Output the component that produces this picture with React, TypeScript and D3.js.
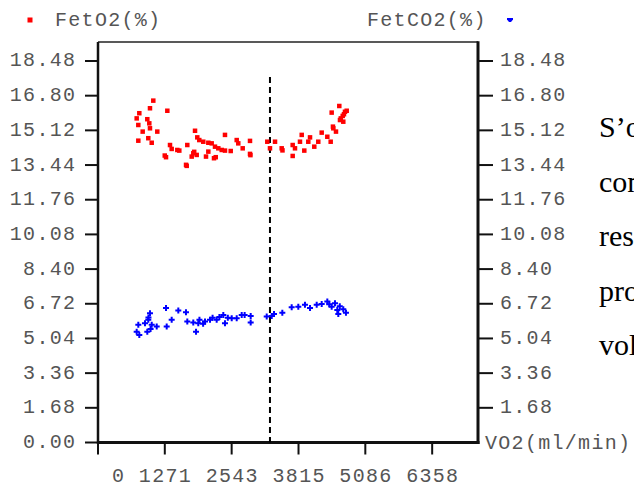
import * as d3 from 'd3';

// FetO2 (%) vs VO2 (ml/min), red squares
const vo2O2 = [
  1052, 989, 1319, 786, 736, 938, 767, 976, 989, 850, 1128, 957, 767, 1022, 1370, 1294,
  1402, 1509, 1547, 1688, 1699, 1846, 1889, 1927, 2003, 2099, 1813, 1783, 1878, 2055,
  2099, 2207, 2163, 2226, 2289, 2354, 2416, 2416, 2525, 2639, 2669, 2753, 2892, 2892,
  3221, 3272, 3368, 3495, 3704, 3704, 3748, 3843, 3876, 3925, 4001, 4034, 4115, 4191,
  4256, 4363, 4427, 4446, 4477, 4528, 4591, 4604, 4656, 4699, 4732, 4667,
  1270, 1675, 1830, 2240, 2900, 3510, 4470, 4620, 4680,
];
const fetO2 = [
  16.56, 16.19, 16.07, 15.95, 15.70, 15.66, 15.38, 15.46, 15.22, 15.06, 15.06, 14.74, 14.62, 14.52, 14.41, 13.82,
  14.22, 14.17, 14.14, 13.40, 14.41, 15.10, 14.78, 14.65, 14.57, 14.52, 14.01, 13.85, 13.93, 13.85,
  14.09, 13.77, 14.49, 14.33, 14.25, 14.17, 14.90, 14.14, 14.12, 14.65, 14.49, 14.25, 14.61, 13.98,
  14.57, 14.25, 14.57, 14.25, 14.41, 13.88, 14.25, 14.57, 14.90, 14.14, 14.57, 14.78, 14.33, 14.57,
  15.01, 14.81, 14.57, 15.98, 15.22, 15.06, 16.30, 15.62, 15.82, 16.02, 16.07, 15.54,
  13.90, 13.45, 14.08, 13.82, 13.92, 14.15, 15.30, 15.70, 15.90,
];

// FetCO2 (%) vs VO2 (ml/min), blue crosses
const vo2CO2 = [
  989, 957, 894, 1022, 767, 736, 786, 938, 1117, 1294, 1402, 1307, 1528, 1674, 1699,
  1813, 1865, 1908, 2036, 2131, 2258, 2384, 2416, 2544, 2639, 2734, 2905, 2905, 3210,
  3305, 3349, 3507, 3685, 3811, 3938, 4034, 4161, 4256, 4363, 4446, 4509, 4553, 4667,
  4718, 4572, 1930, 2180, 2310, 2470, 2790, 960, 1000, 2000, 4400, 4600,
];
const fetCO2 = [
  6.26, 5.94, 5.78, 5.70, 5.70, 5.37, 5.21, 5.37, 5.62, 6.51, 5.94, 5.62, 6.39, 6.31, 5.86,
  5.81, 5.37, 5.78, 5.86, 5.94, 5.94, 6.18, 5.78, 6.02, 6.02, 6.18, 6.13, 5.81, 6.10,
  6.13, 6.23, 6.29, 6.55, 6.58, 6.67, 6.51, 6.67, 6.71, 6.83, 6.58, 6.75, 6.42, 6.46,
  6.29, 6.23, 5.94, 6.04, 6.08, 6.04, 6.18, 6.05, 5.50, 5.75, 6.70, 6.60,
];

const yTicks = [0, 1.68, 3.36, 5.04, 6.72, 8.4, 10.08, 11.76, 13.44, 15.12, 16.8, 18.48];
const xTicks = [0, 1271, 2543, 3815, 5086, 6358];
const thresholdVO2 = 3272;
const sideText = ['S’o', 'con', 'res', 'pro', 'vol'];

const W = 634;
const H = 487;
const left = 98, right = 478, top = 42, bottom = 442.5;
const mono = { fontFamily: 'Liberation Mono, monospace', fontSize: 20, letterSpacing: 1.3, fill: '#555' };

export default function App() {
  const x = d3.scaleLinear().domain([0, 7230]).range([left, right]);
  const y = d3.scaleLinear().domain([0, 19.4]).range([bottom, top]);
  const cross = d3.symbol(d3.symbolCross, 20)() as string;

  return (
    <svg width={W} height={H} style={{ position: 'absolute', left: 0, top: 0, background: '#fff' }}>
      {/* legend */}
      <rect x={27.5} y={17.5} width={5} height={5} fill="#ff0000" />
      <text x={55} y={20} dominantBaseline="central" {...mono}>FetO2(%)</text>
      <text x={367} y={20} dominantBaseline="central" {...mono}>FetCO2(%)</text>
      <path d="M507,18h6v1.5l-2,2.5h-2l-2,-2.5z" fill="#0000ff" />

      {/* frame */}
      <line x1={left} x2={right} y1={top} y2={top} stroke="#222" strokeWidth={1.5} />
      <line x1={left} x2={left} y1={top} y2={bottom + 1.5} stroke="#111" strokeWidth={2.5} />
      <line x1={right} x2={right} y1={top - 0.75} y2={bottom + 1.5} stroke="#111" strokeWidth={3} />
      <line x1={left - 1} x2={right + 1.5} y1={bottom} y2={bottom} stroke="#111" strokeWidth={3} />

      {/* left axis */}
      {yTicks.map(t => (
        <g key={'l' + t}>
          <line x1={left - 13} x2={left} y1={y(t)} y2={y(t)} stroke="#111" strokeWidth={2} />
          <text x={76.3} y={y(t)} textAnchor="end" dominantBaseline="central" {...mono}>{t.toFixed(2)}</text>
        </g>
      ))}

      {/* right axis */}
      {yTicks.filter(t => t > 0).map(t => (
        <g key={'r' + t}>
          <line x1={right} x2={right + 15} y1={y(t)} y2={y(t)} stroke="#111" strokeWidth={2} />
          <text x={500} y={y(t)} dominantBaseline="central" {...mono}>{t.toFixed(2)}</text>
        </g>
      ))}
      <text x={485} y={bottom + 1} dominantBaseline="central" {...mono}>VO2(ml/min)</text>

      {/* bottom axis */}
      {xTicks.map(t => (
        <g key={'b' + t}>
          <line x1={x(t)} x2={x(t)} y1={bottom} y2={bottom + 12} stroke="#111" strokeWidth={2} />
          <text x={x(t) + 0.65} y={476} textAnchor="middle" dominantBaseline="central" style={{ whiteSpace: 'pre' }} {...mono}>
            {String(t).padStart(4, ' ')}
          </text>
        </g>
      ))}

      {/* threshold */}
      <line x1={x(thresholdVO2)} x2={x(thresholdVO2)} y1={y(17.7)} y2={bottom} stroke="#000" strokeWidth={2} strokeDasharray="6,4" />

      {/* FetO2 points */}
      {vo2O2.map((v, i) => (
        <rect key={'o' + i} x={x(v) - 2.25} y={y(fetO2[i]) - 2.25} width={4.5} height={4.5} fill="#ff0000" />
      ))}

      {/* FetCO2 points */}
      {vo2CO2.map((v, i) => (
        <path key={'c' + i} d={cross} transform={`translate(${x(v)},${y(fetCO2[i])})`} fill="#0000ff" />
      ))}

      {/* surrounding document text */}
      {sideText.map((s, i) => (
        <text key={s} x={599} y={137 + i * 54.5} fontFamily="Liberation Serif, serif" fontSize={30} fill="#000">{s}</text>
      ))}
    </svg>
  );
}
